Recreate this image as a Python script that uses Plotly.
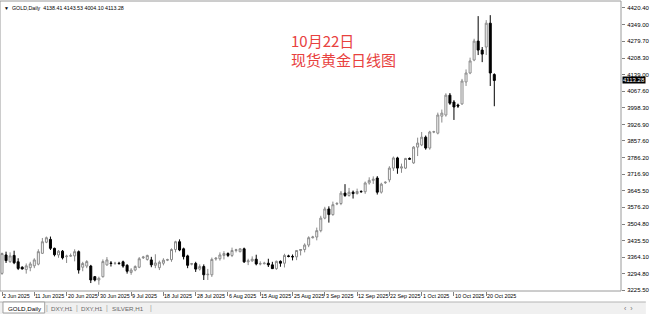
import pandas as pd
import plotly.graph_objects as go

# ---- data (GOLD, Daily; broker shows short Sunday bars) ----
all_days = pd.date_range("2025-06-02", "2025-10-22", freq="D")
dates = [d.strftime("%Y-%m-%d") for d in all_days if d.weekday() != 5]

opens = [3296, 3374, 3346, 3372, 3345,
         3322, 3312, 3320, 3328, 3335, 3381,
         3428, 3440, 3402, 3374, 3390, 3367,
         3369, 3370, 3388, 3322, 3327, 3327,
         3282, 3268, 3282, 3332, 3340, 3338,
         3339, 3345, 3330, 3300, 3310, 3322,
         3362, 3355, 3353, 3330, 3320, 3339,
         3352, 3354, 3397, 3430, 3400, 3370,
         3335, 3338, 3314, 3325, 3290, 3290,
         3357, 3358, 3372, 3380, 3372, 3393,
         3388, 3400, 3345, 3349, 3356, 3336,
         3337, 3339, 3332, 3316, 3347, 3339,
         3370, 3368, 3366, 3393, 3397, 3416,
         3447, 3450, 3477, 3530, 3569, 3545,
         3590, 3592, 3636, 3626, 3640, 3634,
         3643, 3642, 3679, 3690, 3700, 3640,
         3680, 3692, 3742, 3785, 3742, 3742,
         3783, 3764, 3831, 3840, 3873, 3827,
         3895, 3890, 3962, 3967, 4051, 4022,
         4009, 4014, 4107, 4145, 4200, 4280,
         4242, 4255, 4356, 4138.41]
highs = [3384, 3388, 3385, 3392, 3360,
         3326, 3338, 3345, 3360, 3398, 3446,
         3452, 3452, 3405, 3395, 3395, 3375,
         3380, 3398, 3393, 3345, 3352, 3332,
         3285, 3282, 3355, 3365, 3348, 3345,
         3345, 3350, 3335, 3318, 3330, 3365,
         3370, 3375, 3366, 3377, 3350, 3360,
         3358, 3402, 3434, 3440, 3405, 3375,
         3340, 3345, 3334, 3334, 3315, 3363,
         3365, 3385, 3390, 3385, 3405, 3400,
         3402, 3405, 3358, 3368, 3375, 3347,
         3345, 3358, 3345, 3350, 3351, 3379,
         3375, 3376, 3393, 3398, 3423, 3453,
         3455, 3490, 3540, 3578, 3580, 3600,
         3598, 3645, 3674, 3658, 3647, 3655,
         3648, 3685, 3703, 3707, 3708, 3680,
         3686, 3750, 3791, 3790, 3761, 3785,
         3787, 3835, 3871, 3895, 3880, 3900,
         3900, 3977, 3990, 4059, 4060, 4030,
         4015, 4120, 4160, 4210, 4290, 4386,
         4255, 4369, 4390, 4143.53]
lows = [3290, 3340, 3340, 3335, 3310,
        3312, 3295, 3305, 3318, 3330, 3378,
        3424, 3395, 3368, 3362, 3355, 3340,
        3366, 3347, 3295, 3305, 3318, 3255,
        3262, 3248, 3278, 3328, 3325, 3332,
        3335, 3320, 3295, 3290, 3305, 3318,
        3357, 3350, 3322, 3318, 3310, 3330,
        3348, 3345, 3385, 3390, 3355, 3318,
        3330, 3302, 3308, 3268, 3268, 3281,
        3350, 3350, 3355, 3365, 3365, 3385,
        3385, 3340, 3331, 3345, 3330, 3330,
        3334, 3323, 3315, 3311, 3324, 3321,
        3364, 3351, 3352, 3372, 3385, 3407,
        3444, 3436, 3470, 3525, 3511, 3540,
        3585, 3585, 3620, 3621, 3613, 3630,
        3638, 3633, 3672, 3675, 3630, 3634,
        3675, 3682, 3730, 3718, 3722, 3738,
        3778, 3760, 3793, 3835, 3820, 3820,
        3890, 3885, 3935, 3960, 4010, 3946,
        3997, 4010, 4090, 4140, 4195, 4221,
        4191, 4221, 4090, 4004.10]
closes = [3380, 3350, 3370, 3341, 3317,
          3315, 3328, 3336, 3353, 3388, 3430,
          3447, 3402, 3375, 3390, 3362, 3369,
          3371, 3388, 3310, 3338, 3346, 3268,
          3268, 3275, 3346, 3353, 3338, 3339,
          3337, 3327, 3305, 3310, 3325, 3358,
          3365, 3372, 3332, 3340, 3343, 3352,
          3354, 3397, 3430, 3395, 3367, 3330,
          3337, 3314, 3325, 3290, 3292, 3355,
          3360, 3374, 3380, 3372, 3393, 3396,
          3400, 3345, 3349, 3356, 3336, 3337,
          3339, 3332, 3316, 3347, 3339, 3372,
          3368, 3366, 3393, 3397, 3416, 3447,
          3450, 3477, 3530, 3569, 3545, 3587,
          3592, 3636, 3626, 3640, 3634, 3643,
          3642, 3679, 3690, 3695, 3640, 3674,
          3682, 3742, 3785, 3742, 3747, 3783,
          3780, 3831, 3848, 3873, 3827, 3895,
          3896, 3967, 3975, 4051, 4017, 4001,
          4005, 4111, 4145, 4196, 4280, 4242,
          4225, 4356, 4145, 4113.28]

price_ticks = [4420.40, 4349.00, 4279.70, 4208.30, 4139.00, 4067.60, 3998.30,
               3926.90, 3857.60, 3786.20, 3716.90, 3645.50, 3576.20, 3504.80,
               3435.50, 3364.10, 3294.80, 3225.50]
date_tick_dates = ["2025-06-02", "2025-06-11", "2025-06-20", "2025-06-30",
                   "2025-07-09", "2025-07-18", "2025-07-28", "2025-08-06",
                   "2025-08-15", "2025-08-25", "2025-09-03", "2025-09-12",
                   "2025-09-22", "2025-10-01", "2025-10-10", "2025-10-20"]
date_tick_text = ["2 Jun 2025", "11 Jun 2025", "20 Jun 2025", "30 Jun 2025",
                  "9 Jul 2025", "18 Jul 2025", "28 Jul 2025", "6 Aug 2025",
                  "15 Aug 2025", "25 Aug 2025", "3 Sep 2025", "12 Sep 2025",
                  "22 Sep 2025", "1 Oct 2025", "10 Oct 2025", "20 Oct 2025"]
tabs = ["GOLD,Daily", "DXY,H1", "DXY,H1", "SILVER,H1"]
title_lines = ["10月22日", "现货黄金日线图"]

# ---- figure ----
W, H = 650, 314
ML, MR, MT, MB = 0, 25, 1, 23
PH = H - MT - MB
PW = W - ML - MR

fig = go.Figure()
fig.add_trace(go.Candlestick(
    x=dates, open=opens, high=highs, low=lows, close=closes,
    increasing=dict(fillcolor="#ffffff", line=dict(color="#8a8a8a", width=1)),
    decreasing=dict(fillcolor="#000000", line=dict(color="#000000", width=1)),
    whiskerwidth=0, hoverinfo="skip", showlegend=False,
))

FONT = "Liberation Sans"


def py(ypix):
    """container pixel row -> paper y"""
    return (H - MB - ypix) / PH


def px(xpix):
    return (xpix - ML) / PW


annotations = []
# header
annotations.append(dict(
    x=px(2), y=py(8), xref="paper", yref="paper", xanchor="left", yanchor="middle",
    showarrow=False, text="▼",
    font=dict(family=FONT, size=5, color="#000000")))
annotations.append(dict(
    x=px(10), y=py(8), xref="paper", yref="paper", xanchor="left", yanchor="middle",
    showarrow=False,
    text="GOLD,Daily  4138.41 4143.53 4004.10 4113.28",
    font=dict(family=FONT, size=5.3, color="#000000")))
# red title
for i, t in enumerate(title_lines):
    annotations.append(dict(
        x=px(291), y=py(40 + 20 * i), xref="paper", yref="paper",
        xanchor="left", yanchor="middle", showarrow=False, text=t,
        font=dict(family="Noto Sans CJK SC", size=15, color="#e8413e")))
# date labels (left aligned next to tick)
for d, t in zip(date_tick_dates, date_tick_text):
    annotations.append(dict(
        x=d, y=py(296), xref="x", yref="paper", xanchor="left", yanchor="middle",
        xshift=-1, showarrow=False, text=t,
        font=dict(family=FONT, size=5.4, color="#000000")))
# current price box
annotations.append(dict(
    x=1, y=closes[-1], xref="paper", yref="y", xanchor="left", yanchor="middle",
    xshift=1, showarrow=False, text=f"{closes[-1]:.2f}", bgcolor="#000000",
    borderpad=0, font=dict(family=FONT, size=6, color="#ffffff")))
# tabs
tab_cx = [25, 62, 93, 129]
for cx, t in zip(tab_cx, tabs):
    annotations.append(dict(
        x=px(cx), y=py(308), xref="paper", yref="paper",
        xanchor="center", yanchor="middle", showarrow=False, text=t,
        font=dict(family=FONT, size=6.2, color="#000000" if t == tabs[0] else "#6a6a6a")))
for xs in [47, 77, 108, 152]:
    annotations.append(dict(
        x=px(xs), y=py(308), xref="paper", yref="paper",
        xanchor="center", yanchor="middle", showarrow=False, text="|",
        font=dict(family=FONT, size=7, color="#a0a0a0")))
annotations.append(dict(
    x=px(W - 17), y=py(308), xref="paper", yref="paper",
    xanchor="center", yanchor="middle", showarrow=False, text="‹  ›",
    font=dict(family=FONT, size=7, color="#707070")))

shapes = [
    # tab bar background
    dict(type="rect", xref="paper", yref="paper", x0=0, x1=px(W),
         y0=py(302), y1=py(H), fillcolor="#f0f0f0", line=dict(width=0), layer="below"),
    dict(type="line", xref="paper", yref="paper", x0=0, x1=px(W),
         y0=py(302), y1=py(302), line=dict(color="#b4b4b4", width=1)),
    # active tab
    dict(type="rect", xref="paper", yref="paper", x0=px(3), x1=px(45),
         y0=py(302), y1=py(313), fillcolor="#ffffff", line=dict(color="#a0a0a0", width=1)),
    # chart frame
    dict(type="rect", xref="paper", yref="paper", x0=0, x1=1, y0=0, y1=1,
         line=dict(color="#9a9a9a", width=1)),
]

fig.update_layout(
    width=W, height=H,
    margin=dict(l=ML, r=MR, t=MT, b=MB, pad=0),
    paper_bgcolor="#ffffff", plot_bgcolor="#ffffff",
    font=dict(family=FONT, size=6, color="#000000"),
    xaxis=dict(type="category", range=[-0.5, 153.4], rangeslider=dict(visible=False),
               showgrid=False, zeroline=False, showline=False,
               tickmode="array", tickvals=date_tick_dates, ticktext=[""] * len(date_tick_dates),
               ticks="outside", ticklen=4, tickcolor="#808080", tickwidth=1,
               fixedrange=True),
    yaxis=dict(side="right", range=[3221.3, 4450.0], showgrid=False, zeroline=False,
               showline=False, tickmode="array", tickvals=price_ticks,
               ticktext=[f"{v:.2f}" for v in price_ticks], ticks="outside", ticklen=3,
               tickcolor="#808080", tickwidth=1, ticklabelstandoff=1,
               tickfont=dict(family=FONT, size=6, color="#000000"), fixedrange=True),
    annotations=annotations, shapes=shapes,
    hovermode=False,
)

fig.write_html("out.html")
